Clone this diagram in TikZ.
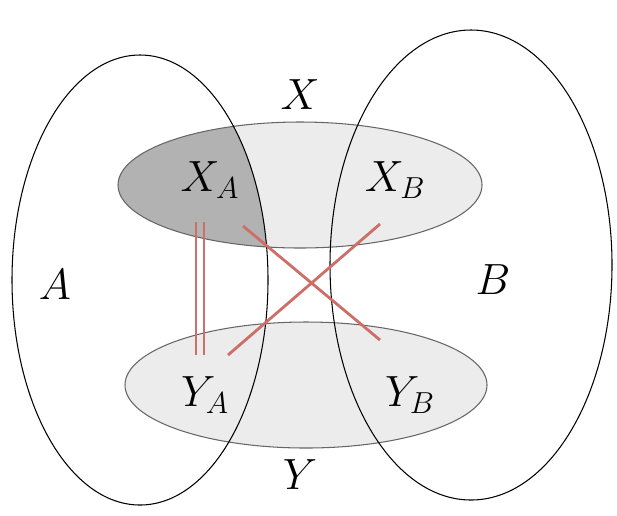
\documentclass[tikz,border=0pt]{standalone}
\definecolor{rose}{RGB}{205,110,105}
\begin{document}
\begin{tikzpicture}[x=0.02cm,y=-0.02cm,
  set/.style={draw=black,line width=0.6pt},
  sub/.style={draw=gray!80!black,line width=0.6pt},
  lbl/.style={font=\fontsize{24}{28}\selectfont},
  red/.style={draw=rose,line width=1.6pt}]
\useasboundingbox (0,0) rectangle (617,515);
\fill[gray!15] (300,185) ellipse [x radius=182,y radius=63];
\fill[gray!15] (306,385) ellipse [x radius=181,y radius=63];
\begin{scope}
\clip (140,280) ellipse [x radius=128,y radius=225];
\fill[gray!60] (300,185) ellipse [x radius=182,y radius=63];
\end{scope}
\draw[sub] (300,185) ellipse [x radius=182,y radius=63];
\draw[sub] (306,385) ellipse [x radius=181,y radius=63];
\draw[set] (140,280) ellipse [x radius=128,y radius=225];
\draw[set] (471,265) ellipse [x radius=141,y radius=235];
\node[lbl] (X) at (300,95) {$X$};
\node[lbl] (Y) at (300,475) {$Y$};
\node[lbl] (A) at (55,285) {$A$};
\node[lbl] (B) at (493,280) {$B$};
\node[lbl] (XA) at (210,180) {$X_A$};
\node[lbl] (XB) at (395,180) {$X_B$};
\node[lbl] (YA) at (205,395) {$Y_A$};
\node[lbl] (YB) at (410,395) {$Y_B$};
\coordinate (a1) at (196,222); \coordinate (a2) at (196,355);
\coordinate (b1) at (204,222); \coordinate (b2) at (204,355);
\coordinate (c1) at (243,226); \coordinate (c2) at (380,340);
\coordinate (d1) at (380,224); \coordinate (d2) at (228,355);
\draw[red] (a1) -- (a2);
\draw[red] (b1) -- (b2);
\draw[red] (c1) -- (c2);
\draw[red] (d1) -- (d2);
\end{tikzpicture}
\end{document}
